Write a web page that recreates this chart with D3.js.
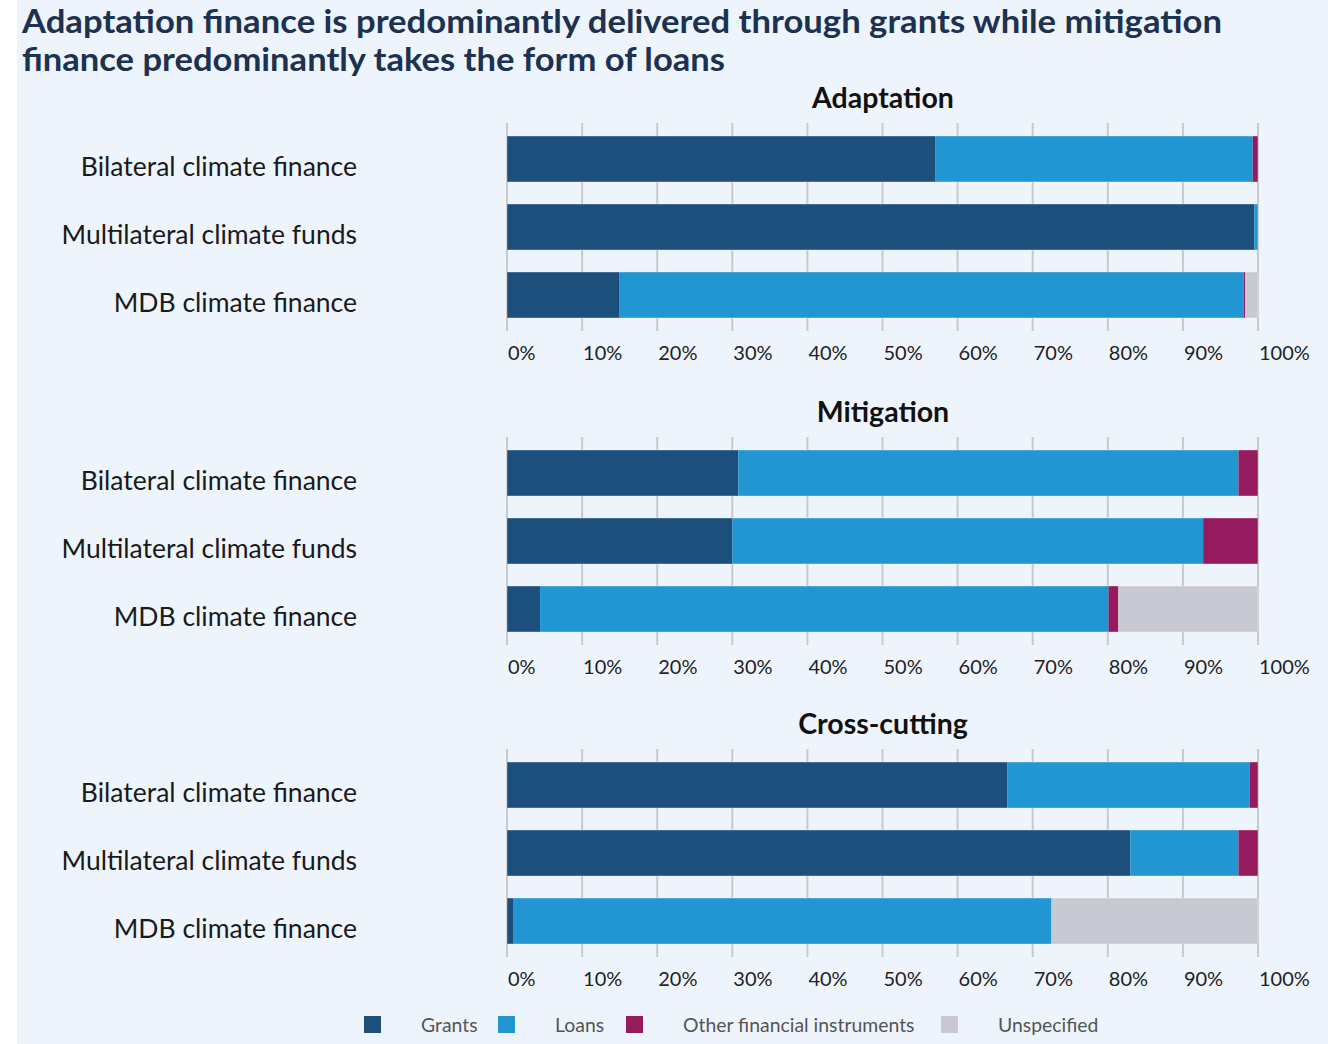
<!DOCTYPE html>
<html>
<head>
<meta charset="utf-8">
<script src="https://cdn.jsdelivr.net/npm/d3@7"></script>
<style>
  body { margin: 0; background: #ffffff; }
  svg { display: block; }
</style>
</head>
<body>
<svg id="chart" width="1333" height="1044"></svg>
<script>
// data (shares in %)
const panels = ['Adaptation', 'Mitigation', 'Cross-cutting']
const categories = ['Bilateral climate finance', 'Multilateral climate funds', 'MDB climate finance']
const seriesNames = ['Grants', 'Loans', 'Other financial instruments', 'Unspecified']
const grants = [[57.0, 99.5, 15.0], [30.8, 30.0, 4.4], [66.6, 83.0, 0.8]]
const loans = [[42.3, 0.5, 83.1], [66.6, 62.7, 75.7], [32.3, 14.4, 71.7]]
const other = [[0.7, 0.0, 0.2], [2.6, 7.3, 1.3], [1.1, 2.6, 0.0]]
const unspecified = [[0.0, 0.0, 1.7], [0.0, 0.0, 18.6], [0.0, 0.0, 27.5]]
const tickValues = [0, 10, 20, 30, 40, 50, 60, 70, 80, 90, 100]
const titleLines = ['Adaptation finance is predominantly delivered through grants while mitigation',
  'finance predominantly takes the form of loans']

const colors = ['#1c4f7c', '#2196d3', '#951a5e', '#c8c9d3']
const seriesValues = [grants, loans, other, unspecified]

const svg = d3.select('#chart')

// background panel
svg.append('rect')
  .attr('x', 17).attr('y', 0)
  .attr('width', 1311).attr('height', 1044)
  .attr('fill', '#eef4fc')

// title
const titleWidths = [1200, 703]
titleLines.forEach((t, i) => {
  svg.append('text')
    .attr('x', 22)
    .attr('y', 33 + i * 38)
    .attr('font-family', 'Lato, "Open Sans", sans-serif')
    .attr('font-weight', 'bold')
    .attr('font-size', '32px')
    .attr('fill', '#1d3150')
    .attr('textLength', titleWidths[i])
    .attr('lengthAdjust', 'spacingAndGlyphs')
    .text(t)
})

const x = d3.scaleLinear().domain([0, 100]).range([507, 1258])
const panelTops = [123, 437, 749]

panels.forEach((p, pi) => {
  const top = panelTops[pi]
  const g = svg.append('g')

  const y = d3.scaleBand()
    .domain(categories)
    .range([top + 2, top + 206])
    .paddingInner(0.3235)
    .paddingOuter(0.1618)

  // panel title
  g.append('text')
    .attr('x', 883)
    .attr('y', top - 15)
    .attr('text-anchor', 'middle')
    .attr('font-family', 'Lato, "Open Sans", sans-serif')
    .attr('font-weight', 'bold')
    .attr('font-size', '28.5px')
    .attr('fill', '#111')
    .text(p)

  // gridlines
  g.selectAll('line.grid')
    .data(tickValues)
    .join('line')
    .attr('class', 'grid')
    .attr('x1', d => x(d)).attr('x2', d => x(d))
    .attr('y1', top).attr('y2', top + 208)
    .attr('stroke', '#c9c9cc')
    .attr('stroke-width', 2)

  // stacked bars
  categories.forEach((c, ci) => {
    let acc = 0
    seriesValues.forEach((s, si) => {
      const v = s[pi][ci]
      if (v > 0) {
        g.append('rect')
          .attr('x', x(acc))
          .attr('y', y(c))
          .attr('width', x(acc + v) - x(acc))
          .attr('height', y.bandwidth())
          .attr('fill', colors[si])
      }
      acc += v
    })
    // thin light outline round the bar
    g.append('rect')
      .attr('x', x(0)).attr('y', y(c))
      .attr('width', x(acc) - x(0)).attr('height', y.bandwidth())
      .attr('fill', 'none')
      .attr('stroke', '#ffffff')
      .attr('stroke-opacity', 0.35)
      .attr('stroke-width', 1)
  })

  // category labels
  g.selectAll('text.cat')
    .data(categories)
    .join('text')
    .attr('class', 'cat')
    .attr('x', 357)
    .attr('y', d => y(d) + y.bandwidth() / 2 + 17)
    .attr('text-anchor', 'end')
    .attr('font-family', 'Lato, "Open Sans", sans-serif')
    .attr('font-size', '26.5px')
    .attr('fill', '#1a1a1a')
    .text(d => d)

  // tick labels
  g.selectAll('text.tick')
    .data(tickValues)
    .join('text')
    .attr('class', 'tick')
    .attr('x', d => x(d) + 1)
    .attr('y', top + 237)
    .attr('font-family', 'Lato, "Open Sans", sans-serif')
    .attr('font-size', '20px')
    .attr('fill', '#222')
    .text(d => d + '%')
})

// legend
const legendX = [364, 498, 626, 941]
const legend = svg.append('g')
seriesNames.forEach((n, i) => {
  legend.append('rect')
    .attr('x', legendX[i]).attr('y', 1016)
    .attr('width', 17).attr('height', 17)
    .attr('fill', colors[i])
  legend.append('text')
    .attr('x', legendX[i] + 57)
    .attr('y', 1032)
    .attr('font-family', 'Lato, "Open Sans", sans-serif')
    .attr('font-size', '19.4px')
    .attr('fill', '#555')
    .text(n)
})
</script>
</body>
</html>
